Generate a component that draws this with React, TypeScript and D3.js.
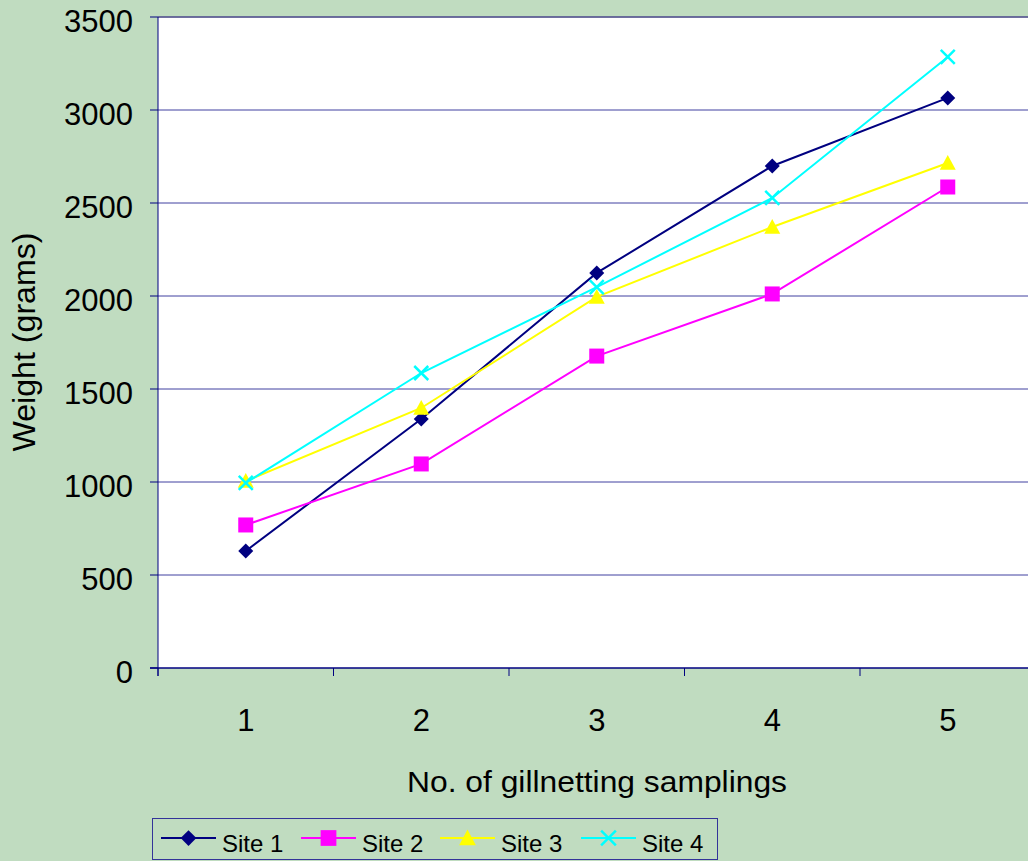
import React from "react";
import * as d3 from "d3";

const categories = [1, 2, 3, 4, 5];
const site1 = [629, 1339, 2124, 2699, 3065];
const site2 = [769, 1097, 1677, 2011, 2586];
const site3 = [1005, 1398, 1995, 2371, 2715];
const site4 = [995, 1586, 2048, 2527, 3285];
const yTicks = [0, 500, 1000, 1500, 2000, 2500, 3000, 3500];
const seriesNames = ["Site 1", "Site 2", "Site 3", "Site 4"];
const seriesColors = ["#000080", "#FF00FF", "#FFFF00", "#00FFFF"];
const seriesMarkers = ["diamond", "square", "triangle", "x"];

const W = 1028, H = 861;
const left = 158, top = 17, bottom = 668, right = 1035.5;
const font = "'Liberation Sans', Arial, sans-serif";

function Marker({ type, x, y, color, size = 1 }: { type: string; x: number; y: number; color: string; size?: number }) {
  if (type === "diamond") {
    const s = 7.5 * size;
    return <path d={`M${x},${y - s}L${x + s},${y}L${x},${y + s}L${x - s},${y}Z`} fill={color} />;
  }
  if (type === "square") {
    const s = 7.5 * size;
    return <rect x={x - s} y={y - s} width={2 * s} height={2 * s} fill={color} />;
  }
  if (type === "triangle") {
    const s = 8 * size;
    return <path d={`M${x},${y - s}L${x + s},${y + s * 0.85}L${x - s},${y + s * 0.85}Z`} fill={color} />;
  }
  const s = 7 * size;
  return (
    <g stroke={color} strokeWidth={2.5}>
      <line x1={x - s} y1={y - s} x2={x + s} y2={y + s} />
      <line x1={x - s} y1={y + s} x2={x + s} y2={y - s} />
    </g>
  );
}

export default function App() {
  const data = [site1, site2, site3, site4];
  const x = d3.scaleBand<number>().domain(categories).range([left, right]);
  const y = d3.scaleLinear().domain([0, 3500]).range([bottom, top]);
  const cx = (c: number) => (x(c) as number) + x.bandwidth() / 2;
  const line = d3.line<number>().x((_, i) => cx(categories[i])).y((d) => y(d));
  const boundaries = categories.map((c) => x(c) as number);

  const legendStarts = [161, 301, 440, 581];

  return (
    <svg width={W} height={H} style={{ position: "absolute", left: 0, top: 0 }} fontFamily={font}>
      <rect x={0} y={0} width={W} height={H} fill="#C0DCC0" />
      <rect x={left} y={top} width={W - left} height={bottom - top} fill="#FFFFFF" />
      <line x1={left} x2={W} y1={top} y2={top} stroke="#808080" strokeWidth={1.5} />
      {yTicks.filter((t) => t > 0).map((t) => (
        <line key={t} x1={left} x2={W} y1={y(t)} y2={y(t)} stroke="#4040A0" strokeWidth={1} />
      ))}
      <line x1={left} x2={left} y1={top} y2={bottom + 8} stroke="#000080" strokeWidth={1} />
      <line x1={left - 8} x2={W} y1={bottom} y2={bottom} stroke="#000080" strokeWidth={1.5} />
      {yTicks.map((t) => (
        <g key={t}>
          <line x1={left - 8} x2={left} y1={y(t)} y2={y(t)} stroke="#000080" strokeWidth={1} />
          <text x={133} y={y(t) + 15} textAnchor="end" fontSize={31} fill="#000">{t}</text>
        </g>
      ))}
      {boundaries.map((b, i) => (
        <line key={i} x1={b} x2={b} y1={bottom} y2={bottom + 8} stroke="#000080" strokeWidth={1} />
      ))}
      {categories.map((c) => (
        <text key={c} x={cx(c)} y={731} textAnchor="middle" fontSize={31} fill="#000">{c}</text>
      ))}
      <text x={597} y={792} textAnchor="middle" fontSize={30} textLength={380} lengthAdjust="spacingAndGlyphs" fill="#000">No. of gillnetting samplings</text>
      <text transform="translate(35,342) rotate(-90)" textAnchor="middle" fontSize={31} textLength={219} lengthAdjust="spacingAndGlyphs" fill="#000">Weight (grams)</text>
      {data.map((d, si) => (
        <g key={si}>
          <path d={line(d) || ""} fill="none" stroke={seriesColors[si]} strokeWidth={2} />
          {d.map((v, i) => (
            <Marker key={i} type={seriesMarkers[si]} x={cx(categories[i])} y={y(v)} color={seriesColors[si]} />
          ))}
        </g>
      ))}
      <rect x={152.5} y={818.5} width={565} height={41} fill="#C0DCC0" stroke="#333399" strokeWidth={1} />
      {legendStarts.map((x0, i) => (
        <g key={i}>
          <line x1={x0} x2={x0 + 55} y1={838} y2={838} stroke={seriesColors[i]} strokeWidth={2} />
          <Marker type={seriesMarkers[i]} x={x0 + 27.5} y={838} color={seriesColors[i]} size={1.05} />
          <text x={x0 + 61} y={852} fontSize={24} fill="#000">{seriesNames[i]}</text>
        </g>
      ))}
    </svg>
  );
}
